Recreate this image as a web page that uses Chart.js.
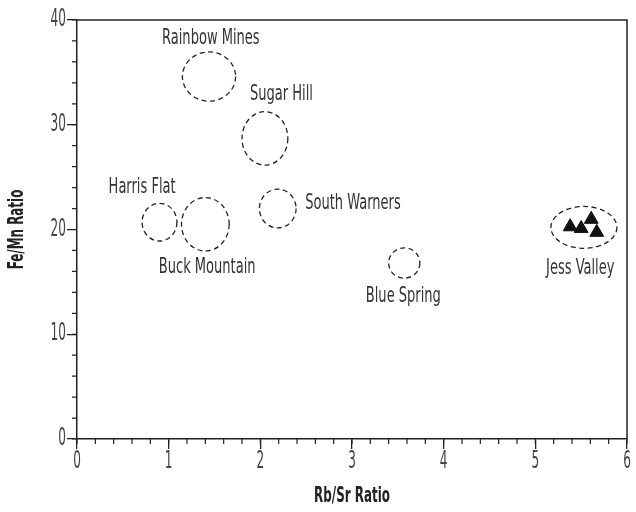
<!DOCTYPE html>
<html>
<head>
<meta charset="utf-8">
<script src="https://cdn.jsdelivr.net/npm/chart.js@4"></script>
<style>
  html, body { margin: 0; padding: 0; background: #fff; }
  #wrap { width: 636px; height: 512px; }
</style>
</head>
<body>
<div id="wrap"><canvas id="chart-fe"></canvas></div>
<script>
// grupos (elipses punteadas)
const groups = ["Rainbow Mines", "Sugar Hill", "Harris Flat", "Buck Mountain", "South Warners", "Blue Spring", "Jess Valley"];
const rbSr = [1.44, 2.05, 0.9, 1.4, 2.19, 3.57, 5.53];
const feMn = [34.6, 28.7, 20.7, 20.5, 22.0, 16.8, 20.2];
const rbSrSpread = [0.29, 0.25, 0.19, 0.26, 0.2, 0.17, 0.36];
const feMnSpread = [2.35, 2.55, 1.8, 2.55, 1.85, 1.45, 2.0];
// donde va el nombre de cada grupo
const labelRbSr = [1.46, 2.23, 0.71, 1.42, 3.01, 3.56, 5.49];
const labelFeMn = [38.2, 32.9, 24.0, 16.4, 22.5, 13.6, 16.3];
// muestras de Jess Valley (triangulos)
const jessRbSr = [5.38, 5.5, 5.61, 5.67];
const jessFeMn = [20.26, 20.1, 20.97, 19.73];
// ticks
const xTicks = [0, 1, 2, 3, 4, 5, 6];
const yTicks = [0, 10, 20, 30, 40];

const FONT = "'DejaVu Sans Condensed', 'DejaVu Sans', sans-serif";
const INK = "#222";

// texto angosto (la fuente original es condensada)
function narrowText(ctx, txt, x, y, font, sx, align, rot) {
  ctx.save();
  ctx.translate(x, y);
  if (rot) ctx.rotate(rot);
  ctx.scale(sx, 1);
  ctx.font = font;
  ctx.textAlign = align || "center";
  ctx.textBaseline = "middle";
  ctx.fillText(txt, 0, 0);
  ctx.restore();
}

const extras = {
  id: "extras",
  afterDraw(chart) {
    const ctx = chart.ctx;
    const xs = chart.scales.x;
    const ys = chart.scales.y;
    const a = chart.chartArea;
    ctx.save();
    // caja
    ctx.strokeStyle = INK;
    ctx.lineWidth = 1.5;
    ctx.beginPath();
    ctx.moveTo(a.left, a.top);
    ctx.lineTo(a.right, a.top);
    ctx.lineTo(a.right, a.bottom);
    ctx.stroke();
    // ticks menores
    ctx.lineWidth = 1.2;
    ctx.beginPath();
    for (let v = 0; v <= 6.001; v += 0.2) {
      const px = xs.getPixelForValue(v);
      ctx.moveTo(px, a.bottom);
      ctx.lineTo(px, a.bottom + 5);
    }
    for (let v = 0; v <= 40.001; v += 2) {
      const py = ys.getPixelForValue(v);
      ctx.moveTo(a.left, py);
      ctx.lineTo(a.left - 5, py);
    }
    ctx.stroke();
    // elipses
    ctx.setLineDash([5, 3.5]);
    ctx.lineWidth = 1.3;
    groups.forEach((g, i) => {
      const cx = xs.getPixelForValue(rbSr[i]);
      const cy = ys.getPixelForValue(feMn[i]);
      const rx = Math.abs(xs.getPixelForValue(rbSr[i] + rbSrSpread[i]) - cx);
      const ry = Math.abs(ys.getPixelForValue(feMn[i] + feMnSpread[i]) - cy);
      ctx.beginPath();
      ctx.ellipse(cx, cy, rx, ry, 0, 0, Math.PI * 2);
      ctx.stroke();
    });
    ctx.setLineDash([]);
    // etiquetas de ticks
    ctx.fillStyle = "#444";
    xTicks.forEach((v) => {
      narrowText(ctx, String(v), xs.getPixelForValue(v), a.bottom + 23, "24px " + FONT, 0.56);
    });
    yTicks.forEach((v) => {
      narrowText(ctx, String(v), a.left - 11, ys.getPixelForValue(v), "24px " + FONT, 0.56, "right");
    });
    // nombres
    ctx.fillStyle = "#333";
    groups.forEach((g, i) => {
      narrowText(ctx, g, xs.getPixelForValue(labelRbSr[i]), ys.getPixelForValue(labelFeMn[i]), "21px " + FONT, 0.69);
    });
    // titulos de ejes
    ctx.fillStyle = INK;
    narrowText(ctx, "Rb/Sr Ratio", (a.left + a.right) / 2, 497, "bold 21px " + FONT, 0.63);
    narrowText(ctx, "Fe/Mn Ratio", 18, (a.top + a.bottom) / 2, "bold 21px " + FONT, 0.63, "center", -Math.PI / 2);
    ctx.restore();
  },
};

const ctx = document.getElementById("chart-fe").getContext("2d");
new Chart(ctx, {
  type: "scatter",
  data: {
    datasets: [
      {
        label: "Jess Valley",
        data: jessRbSr.map((x, i) => ({ x: x, y: jessFeMn[i] })),
        pointStyle: "triangle",
        pointRadius: 8,
        pointHoverRadius: 8,
        backgroundColor: "#111",
        borderColor: "#111",
        borderWidth: 1,
      },
    ],
  },
  options: {
    responsive: true,
    maintainAspectRatio: false,
    animation: false,
    events: [],
    layout: { padding: { top: 20, right: 1, left: 0, bottom: 0 } },
    plugins: { legend: { display: false }, tooltip: { enabled: false } },
    scales: {
      x: {
        type: "linear",
        min: 0,
        max: 6,
        afterFit: (s) => { s.height = 73; },
        afterBuildTicks: (s) => { s.ticks = xTicks.map((v) => ({ value: v })); },
        border: { display: true, color: INK, width: 1.5 },
        grid: { drawOnChartArea: false, drawTicks: true, tickLength: 10, color: INK, lineWidth: 1.3 },
        ticks: { display: false },
      },
      y: {
        type: "linear",
        min: 0,
        max: 40,
        afterFit: (s) => { s.width = 77; },
        afterBuildTicks: (s) => { s.ticks = yTicks.map((v) => ({ value: v })); },
        border: { display: true, color: INK, width: 1.5 },
        grid: { drawOnChartArea: false, drawTicks: true, tickLength: 10, color: INK, lineWidth: 1.3 },
        ticks: { display: false },
      },
    },
  },
  plugins: [extras],
});
</script>
</body>
</html>
